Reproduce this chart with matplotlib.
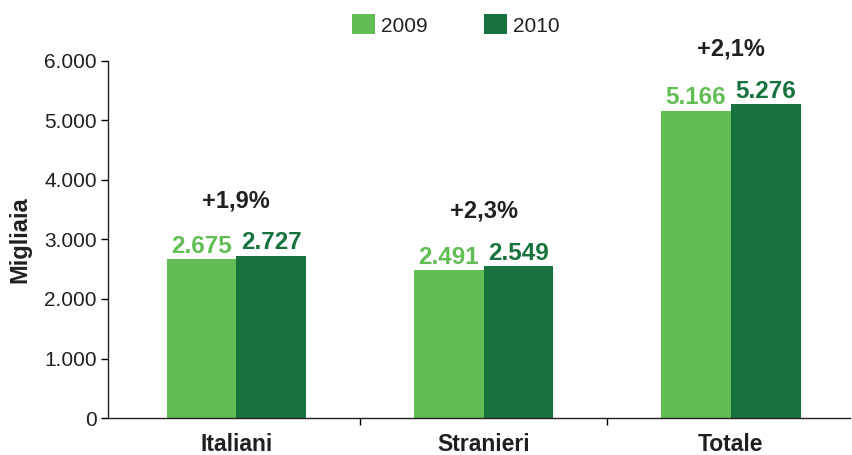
import numpy as np
import matplotlib.pyplot as plt

plt.rcParams['font.family'] = ['Liberation Sans', 'DejaVu Sans']

# data
categories = ["Italiani", "Stranieri", "Totale"]
years = ["2009", "2010"]
values_2009 = [2675, 2491, 5166]
values_2010 = [2727, 2549, 5276]
changes = ["+1,9%", "+2,3%", "+2,1%"]
yticks = [0, 1000, 2000, 3000, 4000, 5000, 6000]
ytick_labels = ["0", "1.000", "2.000", "3.000", "4.000", "5.000", "6.000"]

c_light = "#62BD55"
c_dark = "#18723E"
txt = "#231F20"

fig = plt.figure(figsize=(8.52, 4.55), dpi=100)
ax = fig.add_axes([0.1268, 0.0813, 0.8709, 0.7847])

x = np.arange(len(categories))
w = 0.282
b1 = ax.bar(x - w / 2, values_2009, w, color=c_light, label=years[0])
b2 = ax.bar(x + w / 2, values_2010, w, color=c_dark, label=years[1])

def fmt(v):
    return f"{v:,}".replace(",", ".")

for bars, vals, col in [(b1, values_2009, c_light), (b2, values_2010, c_dark)]:
    for r, v in zip(bars, vals):
        ax.annotate(fmt(v), (r.get_x() + r.get_width() / 2, v),
                    xytext=(0, 4.5), textcoords="offset points",
                    ha="center", va="baseline", fontsize=17.5,
                    fontweight="bold", color=col)

for i, lab in enumerate(changes):
    top = max(values_2009[i], values_2010[i])
    ax.annotate(lab, (x[i], top), xytext=(0, 35), textcoords="offset points",
                ha="center", va="baseline", fontsize=17,
                fontweight="bold", color=txt)

ax.set_xlim(-0.519, 2.482)
ax.set_ylim(0, 6000)
ax.set_yticks(yticks)
ax.set_yticklabels(ytick_labels)
ax.set_xticks(x)
ax.set_xticklabels(categories, fontsize=16.5, fontweight="bold", color=txt)
ax.set_xticks([0.5, 1.5], minor=True)
ax.tick_params(axis="x", which="major", length=0, pad=11)
ax.tick_params(axis="x", which="minor", length=5, width=1, direction="out")
ax.tick_params(axis="y", length=5, width=1, direction="out", pad=3,
               labelsize=15, labelcolor=txt)
for s in ["top", "right"]:
    ax.spines[s].set_visible(False)
for s in ["left", "bottom"]:
    ax.spines[s].set_linewidth(1)
    ax.spines[s].set_color(txt)

ax.set_ylabel("Migliaia", fontsize=17, fontweight="bold", color=txt, labelpad=9)

fig.legend(loc="center", bbox_to_anchor=(0.535, 0.945), ncol=2, frameon=False,
           fontsize=15, handlelength=1.1, handleheight=1.1, handletextpad=0.3,
           columnspacing=2.7, labelcolor=txt)

fig.savefig("out.png", dpi=100)
